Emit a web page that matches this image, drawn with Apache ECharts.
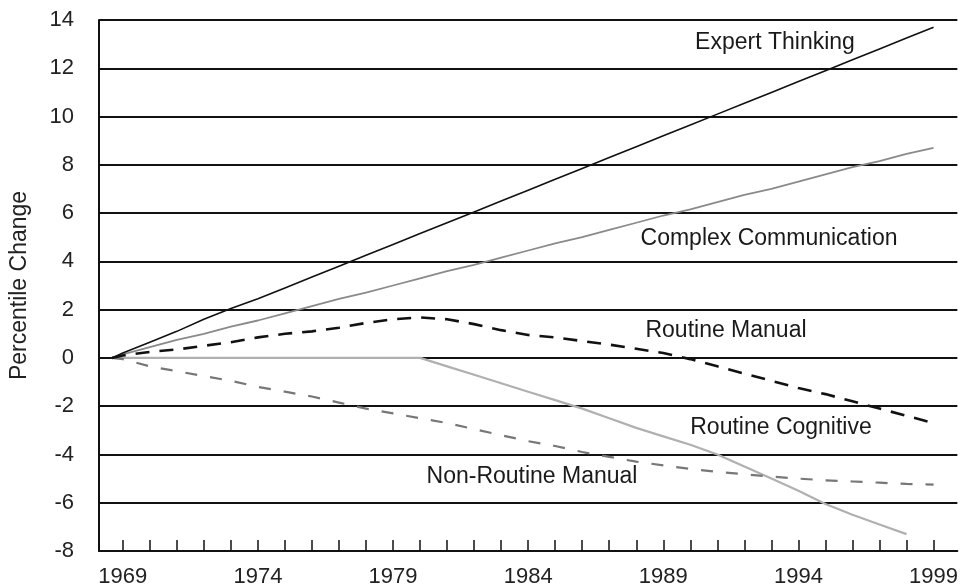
<!DOCTYPE html>
<html>
<head>
<meta charset="utf-8">
<script src="https://cdn.jsdelivr.net/npm/echarts@6/dist/echarts.min.js"></script>
<style>
html,body{margin:0;padding:0;background:#fff;}
#chart{width:961px;height:588px;}
</style>
</head>
<body>
<div id="chart"></div>
<script>
// x positions (years); first point is where all lines start, just left of 1969
const years = [1968.6, 1969, 1970, 1971, 1972, 1973, 1974, 1975, 1976, 1977, 1978, 1979, 1980, 1981, 1982, 1983, 1984, 1985, 1986, 1987, 1988, 1989, 1990, 1991, 1992, 1993, 1994, 1995, 1996, 1997, 1998, 1999];
const expertThinking = [0, 0.2, 0.65, 1.1, 1.6, 2.05, 2.45, 2.9, 3.35, 3.8, 4.25, 4.7, 5.15, 5.6, 6.05, 6.5, 6.95, 7.4, 7.85, 8.3, 8.75, 9.2, 9.65, 10.1, 10.55, 11.0, 11.45, 11.9, 12.35, 12.8, 13.25, 13.7];
const complexCommunication = [0, 0.15, 0.45, 0.75, 1.0, 1.3, 1.55, 1.85, 2.15, 2.45, 2.7, 3.0, 3.3, 3.6, 3.85, 4.15, 4.45, 4.75, 5.0, 5.3, 5.6, 5.9, 6.15, 6.45, 6.75, 7.0, 7.3, 7.6, 7.9, 8.15, 8.45, 8.7];
const routineManual = [0, 0.1, 0.25, 0.35, 0.5, 0.65, 0.85, 1.0, 1.1, 1.25, 1.45, 1.6, 1.68, 1.6, 1.4, 1.15, 0.95, 0.85, 0.7, 0.55, 0.38, 0.2, -0.05, -0.35, -0.65, -0.95, -1.25, -1.5, -1.8, -2.1, -2.4, -2.7];
const routineCognitive = [0, 0, 0, 0, 0, 0, 0, 0, 0, 0, 0, 0, 0, -0.35, -0.7, -1.05, -1.4, -1.75, -2.1, -2.5, -2.9, -3.25, -3.6, -4.0, -4.5, -5.0, -5.5, -6.05, -6.5, -6.9, -7.3, null];
const nonRoutineManual = [0, -0.05, -0.35, -0.55, -0.75, -0.95, -1.2, -1.4, -1.6, -1.85, -2.1, -2.3, -2.5, -2.7, -2.95, -3.2, -3.45, -3.65, -3.9, -4.1, -4.3, -4.45, -4.6, -4.72, -4.82, -4.92, -5.0, -5.07, -5.12, -5.17, -5.22, -5.25];

const tickYears = [1969, 1970, 1971, 1972, 1973, 1974, 1975, 1976, 1977, 1978, 1979, 1980, 1981, 1982, 1983, 1984, 1985, 1986, 1987, 1988, 1989, 1990, 1991, 1992, 1993, 1994, 1995, 1996, 1997, 1998, 1999];
const labelYears = [1969, 1974, 1979, 1984, 1989, 1994, 1999];
const seriesNames = ['Expert Thinking', 'Complex Communication', 'Routine Manual', 'Routine Cognitive', 'Non-Routine Manual'];

function pairs(vals) {
  const out = [];
  for (let i = 0; i < years.length; i++) {
    if (vals[i] !== null && vals[i] !== undefined) out.push([years[i], vals[i]]);
  }
  return out;
}

const FONT = '"Liberation Sans", Arial, sans-serif';
const chart = echarts.init(document.getElementById('chart'), null, {renderer: 'canvas'});

function txt(text, x, y) {
  return {
    type: 'text', x: x, y: y, z: 100,
    style: {text: text, x: 0, y: 0, textAlign: 'center', textVerticalAlign: 'middle',
            font: '23px ' + FONT, fill: '#1a1a1a'}
  };
}

chart.setOption({
  animation: false,
  backgroundColor: '#ffffff',
  grid: {left: 98, right: 0, top: 20, bottom: 36, containLabel: false},
  xAxis: {
    type: 'value', min: 1968.12, max: 1999.88,
    axisLine: {show: true, onZero: false, lineStyle: {color: '#111', width: 2}},
    axisTick: {show: true, inside: true, length: 11, customValues: tickYears, lineStyle: {color: '#111', width: 1.5}},
    axisLabel: {customValues: labelYears, formatter: function (v) { return String(Math.round(v)); },
                margin: 15, fontSize: 22, fontFamily: FONT, color: '#222'},
    splitLine: {show: false}
  },
  yAxis: {
    type: 'value', min: -8, max: 14, interval: 2,
    name: 'Percentile Change', nameLocation: 'middle', nameGap: 68,
    nameTextStyle: {fontSize: 23, fontFamily: FONT, color: '#222'},
    axisLine: {show: true, lineStyle: {color: '#111', width: 2}},
    axisTick: {show: false},
    axisLabel: {margin: 25, fontSize: 22, fontFamily: FONT, color: '#222'},
    splitLine: {show: true, lineStyle: {color: '#111', width: 2}}
  },
  series: [
    {name: seriesNames[0], type: 'line', showSymbol: false, data: pairs(expertThinking),
     lineStyle: {color: '#111', width: 1.6}, z: 5},
    {name: seriesNames[1], type: 'line', showSymbol: false, data: pairs(complexCommunication),
     lineStyle: {color: '#8a8a8a', width: 1.8}, z: 4},
    {name: seriesNames[2], type: 'line', showSymbol: false, data: pairs(routineManual),
     lineStyle: {color: '#111', width: 2.6, type: [14, 10]}, z: 6},
    {name: seriesNames[3], type: 'line', showSymbol: false, data: pairs(routineCognitive),
     lineStyle: {color: '#b0b0b0', width: 2.2}, z: 3},
    {name: seriesNames[4], type: 'line', showSymbol: false, data: pairs(nonRoutineManual),
     lineStyle: {color: '#777', width: 2.2, type: [12, 13]}, z: 4}
  ],
  graphic: [
    txt(seriesNames[0], 775, 43),
    txt(seriesNames[1], 769, 239),
    txt(seriesNames[2], 726, 331),
    txt(seriesNames[3], 781, 428),
    txt(seriesNames[4], 532, 477)
  ]
});
</script>
</body>
</html>
